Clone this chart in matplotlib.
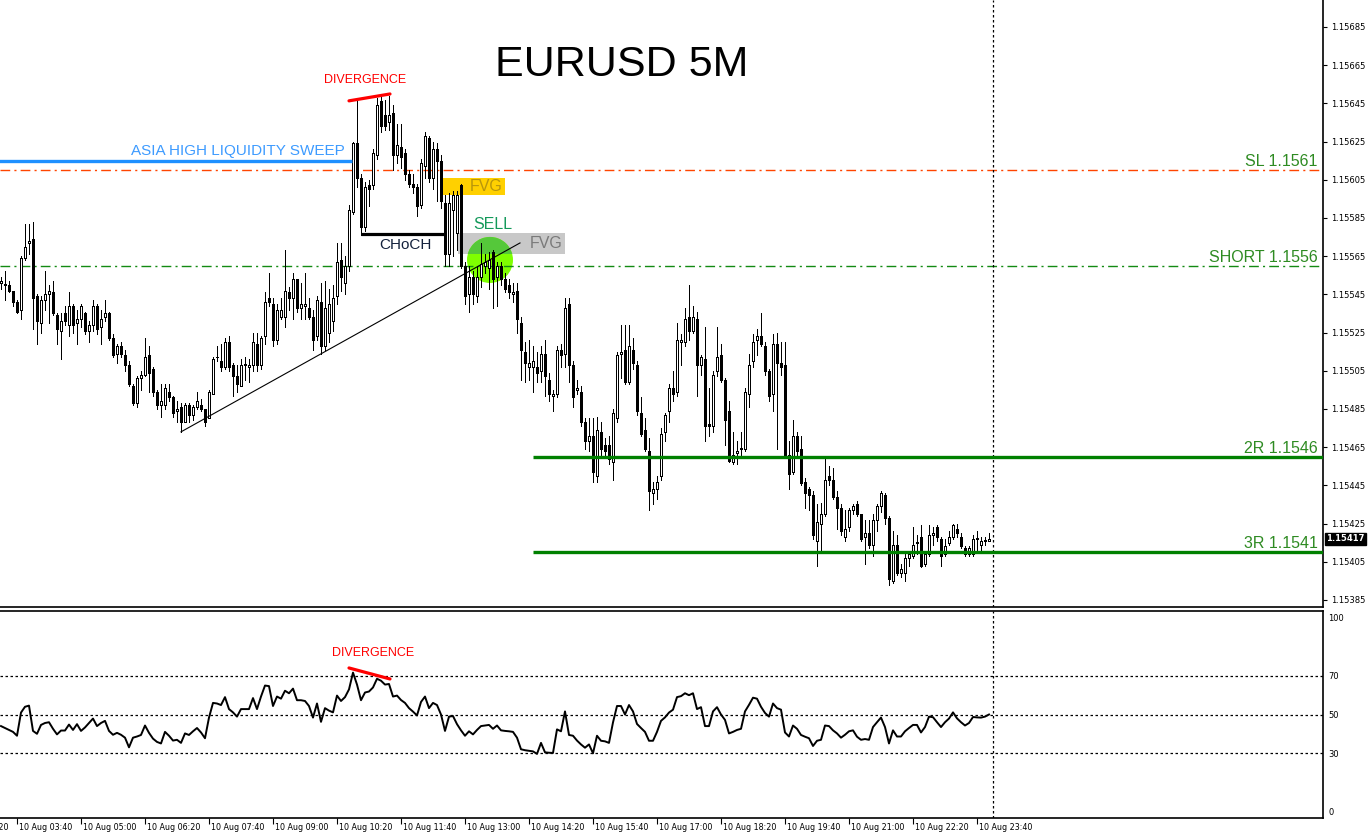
import numpy as np
import pandas as pd
import matplotlib
matplotlib.use("Agg")
import matplotlib.pyplot as plt
import matplotlib.transforms as mtransforms
from matplotlib.patches import Rectangle, Ellipse

# EURUSD 5M candles, 10 Aug 03:20 -> 23:55
opens = [
    1.15551, 1.15550, 1.15550, 1.15547, 1.15541, 1.15537, 1.15564, 1.15572, 1.15574, 1.15544,
    1.15530, 1.15542, 1.15545, 1.15546, 1.15534, 1.15526, 1.15535, 1.15529, 1.15539, 1.15530,
    1.15532, 1.15535, 1.15526, 1.15529, 1.15539, 1.15528, 1.15533, 1.15535, 1.15522, 1.15514,
    1.15518, 1.15513, 1.15508, 1.15497, 1.15488, 1.15501, 1.15503, 1.15513, 1.15506, 1.15494,
    1.15487, 1.15487, 1.15494, 1.15491, 1.15484, 1.15486, 1.15478, 1.15487, 1.15482, 1.15486,
    1.15487, 1.15485, 1.15480, 1.15493, 1.15512, 1.15510, 1.15507, 1.15520, 1.15508, 1.15502,
    1.15497, 1.15508, 1.15507, 1.15508, 1.15519, 1.15508, 1.15523, 1.15543, 1.15540, 1.15521,
    1.15533, 1.15533, 1.15546, 1.15543, 1.15553, 1.15538, 1.15539, 1.15538, 1.15533, 1.15523,
    1.15541, 1.15518, 1.15525, 1.15531, 1.15544, 1.15563, 1.15551, 1.15560, 1.15588, 1.15624,
    1.15606, 1.15580, 1.15602, 1.15602, 1.15618, 1.15646, 1.15639, 1.15635, 1.15640, 1.15618,
    1.15622, 1.15619, 1.15608, 1.15603, 1.15601, 1.15592, 1.15612, 1.15627, 1.15606, 1.15621,
    1.15615, 1.15593, 1.15566, 1.15589, 1.15577, 1.15602, 1.15560, 1.15545, 1.15554, 1.15544,
    1.15554, 1.15560, 1.15559, 1.15567, 1.15554, 1.15560, 1.15553, 1.15550, 1.15545, 1.15547,
    1.15530, 1.15515, 1.15507, 1.15507, 1.15507, 1.15505, 1.15514, 1.15500, 1.15492, 1.15493,
    1.15516, 1.15514, 1.15540, 1.15508, 1.15495, 1.15494, 1.15478, 1.15468, 1.15471, 1.15450,
    1.15473, 1.15466, 1.15466, 1.15457, 1.15480, 1.15514, 1.15516, 1.15499, 1.15516, 1.15508,
    1.15483, 1.15474, 1.15463, 1.15441, 1.15443, 1.15450, 1.15473, 1.15484, 1.15496, 1.15494,
    1.15520, 1.15520, 1.15533, 1.15526, 1.15532, 1.15508, 1.15511, 1.15477, 1.15476, 1.15505,
    1.15513, 1.15500, 1.15484, 1.15457, 1.15462, 1.15464, 1.15464, 1.15493, 1.15510, 1.15521,
    1.15523, 1.15518, 1.15505, 1.15493, 1.15519, 1.15509, 1.15508, 1.15461, 1.15452, 1.15471,
    1.15464, 1.15447, 1.15443, 1.15440, 1.15416, 1.15425, 1.15430, 1.15450, 1.15448, 1.15439,
    1.15433, 1.15418, 1.15423, 1.15432, 1.15435, 1.15430, 1.15418, 1.15420, 1.15414, 1.15427,
    1.15434, 1.15440, 1.15428, 1.15395, 1.15414, 1.15399, 1.15399, 1.15407, 1.15408, 1.15415,
    1.15418, 1.15404, 1.15409, 1.15419, 1.15423, 1.15417, 1.15409, 1.15415, 1.15418, 1.15422,
    1.15418, 1.15412, 1.15409, 1.15409, 1.15417, 1.15414, 1.15416, 1.15416,
]
highs = [
    1.15554, 1.15557, 1.15552, 1.15547, 1.15542, 1.15565, 1.15582, 1.15582, 1.15583, 1.15545,
    1.15544, 1.15557, 1.15550, 1.15552, 1.15535, 1.15535, 1.15539, 1.15546, 1.15540, 1.15537,
    1.15540, 1.15536, 1.15531, 1.15542, 1.15540, 1.15537, 1.15542, 1.15536, 1.15524, 1.15519,
    1.15520, 1.15516, 1.15510, 1.15498, 1.15502, 1.15505, 1.15522, 1.15518, 1.15507, 1.15495,
    1.15498, 1.15498, 1.15498, 1.15492, 1.15489, 1.15488, 1.15488, 1.15488, 1.15487, 1.15494,
    1.15490, 1.15485, 1.15495, 1.15512, 1.15518, 1.15519, 1.15522, 1.15523, 1.15509, 1.15508,
    1.15511, 1.15512, 1.15511, 1.15525, 1.15525, 1.15523, 1.15546, 1.15556, 1.15543, 1.15540,
    1.15543, 1.15568, 1.15549, 1.15556, 1.15553, 1.15551, 1.15556, 1.15543, 1.15537, 1.15544,
    1.15551, 1.15552, 1.15548, 1.15550, 1.15572, 1.15572, 1.15565, 1.15592, 1.15625, 1.15647,
    1.15608, 1.15604, 1.15605, 1.15621, 1.15648, 1.15650, 1.15647, 1.15649, 1.15644, 1.15634,
    1.15634, 1.15621, 1.15610, 1.15608, 1.15603, 1.15616, 1.15630, 1.15628, 1.15625, 1.15624,
    1.15618, 1.15597, 1.15598, 1.15599, 1.15599, 1.15603, 1.15562, 1.15560, 1.15557, 1.15560,
    1.15572, 1.15566, 1.15567, 1.15568, 1.15562, 1.15562, 1.15556, 1.15553, 1.15551, 1.15551,
    1.15533, 1.15520, 1.15521, 1.15518, 1.15515, 1.15518, 1.15521, 1.15504, 1.15495, 1.15518,
    1.15519, 1.15543, 1.15543, 1.15510, 1.15500, 1.15497, 1.15480, 1.15480, 1.15480, 1.15481,
    1.15478, 1.15470, 1.15471, 1.15485, 1.15515, 1.15529, 1.15529, 1.15529, 1.15522, 1.15510,
    1.15491, 1.15480, 1.15470, 1.15447, 1.15450, 1.15475, 1.15483, 1.15498, 1.15505, 1.15530,
    1.15524, 1.15538, 1.15550, 1.15539, 1.15536, 1.15513, 1.15528, 1.15496, 1.15505, 1.15528,
    1.15519, 1.15501, 1.15489, 1.15473, 1.15468, 1.15473, 1.15496, 1.15514, 1.15524, 1.15527,
    1.15535, 1.15520, 1.15506, 1.15524, 1.15525, 1.15520, 1.15520, 1.15468, 1.15479, 1.15473,
    1.15471, 1.15449, 1.15444, 1.15442, 1.15435, 1.15436, 1.15460, 1.15455, 1.15454, 1.15442,
    1.15435, 1.15432, 1.15433, 1.15435, 1.15437, 1.15430, 1.15427, 1.15427, 1.15430, 1.15435,
    1.15442, 1.15441, 1.15429, 1.15421, 1.15419, 1.15404, 1.15409, 1.15410, 1.15423, 1.15419,
    1.15424, 1.15410, 1.15424, 1.15423, 1.15424, 1.15418, 1.15417, 1.15421, 1.15425, 1.15425,
    1.15420, 1.15413, 1.15413, 1.15419, 1.15421, 1.15418, 1.15418, 1.15420,
]
lows = [
    1.15548, 1.15542, 1.15546, 1.15539, 1.15535, 1.15532, 1.15563, 1.15566, 1.15527, 1.15519,
    1.15525, 1.15537, 1.15530, 1.15534, 1.15519, 1.15511, 1.15529, 1.15523, 1.15525, 1.15519,
    1.15528, 1.15524, 1.15520, 1.15526, 1.15524, 1.15519, 1.15531, 1.15521, 1.15512, 1.15509,
    1.15512, 1.15505, 1.15497, 1.15487, 1.15486, 1.15495, 1.15502, 1.15494, 1.15492, 1.15485,
    1.15481, 1.15485, 1.15489, 1.15481, 1.15478, 1.15473, 1.15478, 1.15478, 1.15479, 1.15485,
    1.15484, 1.15476, 1.15480, 1.15493, 1.15510, 1.15505, 1.15506, 1.15505, 1.15492, 1.15494,
    1.15497, 1.15500, 1.15499, 1.15505, 1.15505, 1.15506, 1.15519, 1.15539, 1.15518, 1.15519,
    1.15532, 1.15528, 1.15537, 1.15532, 1.15536, 1.15532, 1.15532, 1.15532, 1.15516, 1.15521,
    1.15514, 1.15516, 1.15520, 1.15526, 1.15540, 1.15547, 1.15545, 1.15557, 1.15587, 1.15601,
    1.15576, 1.15578, 1.15591, 1.15600, 1.15616, 1.15630, 1.15631, 1.15631, 1.15610, 1.15614,
    1.15611, 1.15605, 1.15601, 1.15598, 1.15586, 1.15590, 1.15606, 1.15604, 1.15600, 1.15594,
    1.15590, 1.15560, 1.15560, 1.15565, 1.15568, 1.15559, 1.15540, 1.15536, 1.15540, 1.15541,
    1.15549, 1.15556, 1.15548, 1.15538, 1.15539, 1.15550, 1.15546, 1.15543, 1.15541, 1.15525,
    1.15500, 1.15499, 1.15500, 1.15494, 1.15499, 1.15499, 1.15492, 1.15489, 1.15484, 1.15491,
    1.15507, 1.15507, 1.15499, 1.15486, 1.15493, 1.15476, 1.15464, 1.15463, 1.15447, 1.15447,
    1.15461, 1.15461, 1.15456, 1.15448, 1.15478, 1.15501, 1.15498, 1.15498, 1.15506, 1.15482,
    1.15471, 1.15463, 1.15432, 1.15435, 1.15438, 1.15448, 1.15468, 1.15478, 1.15489, 1.15492,
    1.15508, 1.15518, 1.15521, 1.15525, 1.15492, 1.15503, 1.15468, 1.15471, 1.15473, 1.15502,
    1.15499, 1.15466, 1.15457, 1.15456, 1.15456, 1.15460, 1.15463, 1.15486, 1.15507, 1.15513,
    1.15518, 1.15503, 1.15489, 1.15484, 1.15464, 1.15503, 1.15460, 1.15443, 1.15451, 1.15460,
    1.15445, 1.15433, 1.15432, 1.15417, 1.15403, 1.15410, 1.15429, 1.15445, 1.15438, 1.15422,
    1.15419, 1.15416, 1.15421, 1.15430, 1.15429, 1.15416, 1.15404, 1.15412, 1.15408, 1.15421,
    1.15431, 1.15425, 1.15393, 1.15394, 1.15398, 1.15397, 1.15395, 1.15403, 1.15407, 1.15409,
    1.15402, 1.15403, 1.15408, 1.15414, 1.15416, 1.15403, 1.15408, 1.15414, 1.15417, 1.15418,
    1.15412, 1.15408, 1.15408, 1.15408, 1.15411, 1.15411, 1.15414, 1.15416,
]
closes = [
    1.15552, 1.15550, 1.15547, 1.15541, 1.15536, 1.15564, 1.15570, 1.15573, 1.15543, 1.15531,
    1.15542, 1.15545, 1.15547, 1.15535, 1.15527, 1.15531, 1.15531, 1.15539, 1.15529, 1.15532,
    1.15539, 1.15526, 1.15529, 1.15539, 1.15527, 1.15532, 1.15535, 1.15522, 1.15513, 1.15518,
    1.15514, 1.15508, 1.15498, 1.15488, 1.15501, 1.15503, 1.15512, 1.15504, 1.15494, 1.15487,
    1.15489, 1.15496, 1.15491, 1.15483, 1.15485, 1.15478, 1.15487, 1.15482, 1.15486, 1.15489,
    1.15485, 1.15478, 1.15494, 1.15511, 1.15512, 1.15507, 1.15520, 1.15507, 1.15502, 1.15498,
    1.15508, 1.15508, 1.15508, 1.15520, 1.15508, 1.15522, 1.15541, 1.15541, 1.15521, 1.15537,
    1.15537, 1.15547, 1.15543, 1.15553, 1.15538, 1.15540, 1.15540, 1.15533, 1.15521, 1.15542,
    1.15518, 1.15538, 1.15540, 1.15543, 1.15562, 1.15554, 1.15560, 1.15589, 1.15624, 1.15606,
    1.15580, 1.15601, 1.15600, 1.15619, 1.15644, 1.15633, 1.15633, 1.15639, 1.15618, 1.15623,
    1.15617, 1.15608, 1.15603, 1.15601, 1.15591, 1.15614, 1.15628, 1.15606, 1.15621, 1.15615,
    1.15594, 1.15566, 1.15593, 1.15597, 1.15597, 1.15560, 1.15544, 1.15554, 1.15545, 1.15554,
    1.15561, 1.15562, 1.15563, 1.15553, 1.15560, 1.15553, 1.15548, 1.15546, 1.15546, 1.15532,
    1.15516, 1.15509, 1.15509, 1.15510, 1.15504, 1.15514, 1.15502, 1.15493, 1.15493, 1.15516,
    1.15513, 1.15538, 1.15508, 1.15491, 1.15496, 1.15478, 1.15468, 1.15471, 1.15452, 1.15474,
    1.15464, 1.15463, 1.15459, 1.15483, 1.15513, 1.15515, 1.15499, 1.15518, 1.15509, 1.15484,
    1.15472, 1.15464, 1.15442, 1.15443, 1.15447, 1.15472, 1.15482, 1.15496, 1.15493, 1.15521,
    1.15521, 1.15532, 1.15526, 1.15533, 1.15508, 1.15512, 1.15476, 1.15476, 1.15503, 1.15512,
    1.15500, 1.15479, 1.15458, 1.15461, 1.15463, 1.15464, 1.15494, 1.15508, 1.15520, 1.15523,
    1.15519, 1.15505, 1.15492, 1.15519, 1.15509, 1.15507, 1.15461, 1.15451, 1.15471, 1.15463,
    1.15446, 1.15441, 1.15440, 1.15419, 1.15426, 1.15430, 1.15448, 1.15448, 1.15439, 1.15433,
    1.15421, 1.15422, 1.15432, 1.15434, 1.15430, 1.15417, 1.15420, 1.15414, 1.15427, 1.15434,
    1.15441, 1.15428, 1.15396, 1.15414, 1.15399, 1.15401, 1.15407, 1.15409, 1.15414, 1.15415,
    1.15403, 1.15409, 1.15419, 1.15420, 1.15418, 1.15408, 1.15413, 1.15418, 1.15424, 1.15420,
    1.15413, 1.15409, 1.15412, 1.15417, 1.15417, 1.15416, 1.15416, 1.15417,
]
rsi = [
    44, 43, 42, 41, 39, 51, 54, 54.6, 41.5, 40,
    44.6, 45.6, 46, 42.6, 39.7, 41.7, 41.7, 44.8, 42, 45,
    41.5, 43.3, 45.6, 47.9, 44, 45.6, 46.7, 41.5, 39.5, 40.5,
    39.5, 38, 33, 38, 38.6, 39.4, 44.3, 40.5, 37.5, 35.8,
    35, 41, 39, 36.5, 36.9, 35.3, 40.2, 39.4, 41.3, 43,
    40.7, 37.7, 48.4, 56, 55.7, 54.9, 59, 52.8, 51.1, 48.9,
    52.8, 52.8, 52.8, 58.5, 52.8, 59.3, 65, 64.7, 54.4, 59.3,
    58.2, 62.3, 61, 63.4, 57.4, 57.4, 57, 54.4, 48.4, 55.7,
    46.2, 53.3, 52, 51.1, 59.8, 57, 59, 63, 71.7, 65.5,
    57.4, 61.4, 61.9, 64, 68.5, 67.5, 65.5, 65.8, 59.3, 59.8,
    57.5, 56, 53.3, 51.5, 49.5, 56.5, 59.3, 53.3, 56, 54.9,
    50, 41.5, 48.9, 49.2, 45, 41.8, 39, 41.3, 39.7, 42,
    44, 44.3, 44.6, 42.6, 44.3, 41.8, 41.5, 41.3, 41, 38,
    32, 31.5, 31.2, 30.9, 29.6, 35.3, 30.4, 30.2, 30.1, 42.3,
    41.3, 51.6, 39.4, 39, 36.5, 34.5, 32.8, 34.5, 29.9, 39,
    36.4, 36.1, 35.3, 45.9, 54.4, 54.4, 50, 54.9, 51.6, 45.1,
    43, 41, 36.4, 36.4, 41, 46.7, 48.5, 51, 52.5, 59,
    59.5, 61, 60, 61, 52.8, 53.8, 44, 44, 51.6, 53.8,
    50, 47.2, 40.2, 41, 42, 42.6, 51.6, 55, 58.7, 58.2,
    54, 50.8, 48.9, 55.7, 53.3, 52.5, 40.7, 38.6, 44.3, 42.6,
    39.4, 38.5, 37.7, 33.7, 36.4, 36.9, 44.3, 44, 41.8, 40.2,
    38, 39.5, 41.3, 41.8, 38.5, 36.9, 37.3, 36.9, 43.5, 46,
    48.4, 43.5, 35, 41.8, 38.6, 38.6, 41.3, 43, 44.6, 44.6,
    40.7, 43.5, 48.9, 48.6, 46, 43.5, 46, 47.9, 51.1, 48,
    46, 44.3, 45.6, 48.7, 48.5, 48.4, 48.9, 50,
]

first_bar = pd.Timestamp("2025-08-10 03:20")
level_prices = [1.1561, 1.1556, 1.1546, 1.1541]
level_labels = ["SL 1.1561", "SHORT 1.1556", "2R 1.1546", "3R 1.1541"]
asia_high = 1.15615
rsi_levels = [30, 50, 70]

W, H = 1368, 838
fig = plt.figure(figsize=(W / 100, H / 100), dpi=100)
fig.set_facecolor("white")
ax = fig.add_axes([0, 1 - 607 / H, 1323 / W, 607 / H])
ax_rsi = fig.add_axes([0, 1 - 818 / H, 1323 / W, (818 - 611) / H])

o = np.array(opens)
c = np.array(closes)
h = np.maximum(np.array(highs), np.maximum(o, c))
l = np.minimum(np.array(lows), np.minimum(o, c))
n = len(c)
x = np.arange(n)

# candles: 1px wicks, white (up) and black (down) bodies
ax.vlines(x, l, h, color="black", lw=0.72, zorder=3, antialiased=False)
up = c >= o
bottom = np.minimum(o, c)
height = np.maximum(np.abs(c - o), 0.000004)
ax.bar(x[up], height[up], bottom=bottom[up], width=0.72, facecolor="white",
       edgecolor="black", lw=0.72, zorder=4, antialiased=False)
ax.bar(x[~up], height[~up], bottom=bottom[~up], width=0.72, facecolor="black",
       edgecolor="black", lw=0.72, zorder=4, antialiased=False)

xmax = 330.5
ax.set_xlim(-0.25, xmax)
ax.set_ylim(1.153813, 1.156991)

# levels
sl_style = (0, (7, 3, 1.5, 3))
ax.axhline(level_prices[0], color="#FF4500", lw=1, ls=sl_style, zorder=2)
ax.axhline(level_prices[1], color="#138A13", lw=1, ls=sl_style, zorder=2)
for p in level_prices[2:]:
    ax.hlines(p, 133, xmax, color="#008000", lw=2.4, zorder=5)
for p, lab in zip(level_prices, level_labels):
    ax.text(329.2, p + 0.000006, lab, ha="right", va="bottom", color="#2E8B22",
            fontsize=11.5, family="Liberation Sans", zorder=6)

# asia high sweep
ax.hlines(asia_high, -1, 87.8, color="#1E90FF", lw=2.4, zorder=5)
ax.text(86, asia_high + 0.000012, "ASIA HIGH LIQUIDITY SWEEP", ha="right", va="bottom",
        color="#3D9BFF", fontsize=11, family="Liberation Sans")

# divergence on price
ax.plot([87, 97.25], [1.156463, 1.156499], color="red", lw=2.3, zorder=6,
        solid_capstyle="round")
ax.text(91, 1.15657, "DIVERGENCE", ha="center", va="center", color="red",
        fontsize=9, family="Liberation Sans")

# trendline
ax.plot([45, 129.75], [l[45], 1.155719], color="black", lw=0.8, zorder=5)

# CHoCH
ax.hlines(1.155766, 90, 111, color="black", lw=2.3, zorder=5)
ax.text(101, 1.15571, "CHoCH", ha="center", va="center", color="#13213C",
        fontsize=11, family="Liberation Sans", zorder=6)

# FVG boxes
ax.add_patch(Rectangle((109.75, 1.15597), 16.25, 0.000089, facecolor="#FFD000",
                       edgecolor="none", zorder=1))
ax.text(121.3, 1.156013, "FVG", ha="center", va="center", color="#B8960C",
        fontsize=11.5, family="Liberation Sans", zorder=2)
gray_box = Rectangle((114.25, 1.155662), 26.75, 0.000109, facecolor="#C8C8C8",
                     edgecolor="none", zorder=1)
ax.add_patch(gray_box)
ax.text(136.3, 1.155715, "FVG", ha="center", va="center", color="#7A7A7A",
        fontsize=11.5, family="Liberation Sans", zorder=2)

# sell circle
ax.add_patch(Ellipse((122.25, 1.15563), 11.5, 0.000241, facecolor="#7FFF00",
                     edgecolor="none", zorder=1.5))
dark = Ellipse((122.25, 1.15563), 11.5, 0.000241, facecolor="#55C83A",
               edgecolor="none", zorder=1.6)
ax.add_patch(dark)
dark.set_clip_path(gray_box)
ax.text(123, 1.155815, "SELL", ha="center", va="center", color="#13995A",
        fontsize=11.5, family="Liberation Sans", zorder=6)

# period separator
for a in (ax, ax_rsi):
    a.axvline(n, color="black", lw=0.9, ls=(0, (2, 2)), zorder=2)

# price axis
ax.yaxis.tick_right()
ax.set_yticks(np.arange(1.15385, 1.156851, 0.0002))
ax.yaxis.set_major_formatter(matplotlib.ticker.FormatStrFormatter("%.5f"))
ax.tick_params(axis="y", direction="out", length=3, width=0.8, labelsize=6, pad=3)
ax.set_xticks([])
for s in ("top", "left"):
    ax.spines[s].set_visible(False)
for s in ("right", "bottom"):
    ax.spines[s].set_linewidth(1.2)

# current price tag
trans = mtransforms.blended_transform_factory(ax.transAxes, ax.transData)
ax.text(1.0025, c[-1], "%.5f" % c[-1], transform=trans, ha="left", va="center",
        color="white", fontsize=6, fontweight="bold",
        bbox=dict(boxstyle="square,pad=0.2", facecolor="black", edgecolor="black"))

# RSI panel
ax_rsi.plot(x, rsi, color="black", lw=1.4, zorder=3)
for lv in rsi_levels:
    ax_rsi.axhline(lv, color="black", lw=0.9, ls=(0, (2, 2)), zorder=1)
ax_rsi.plot([87, 97.25], [74.1, 68.4], color="red", lw=2.3, zorder=4,
            solid_capstyle="round")
ax_rsi.text(93, 81.9, "DIVERGENCE", ha="center", va="center", color="red",
            fontsize=9, family="Liberation Sans")
ax_rsi.set_xlim(-0.25, xmax)
ax_rsi.set_ylim(-3.6, 103.6)
ax_rsi.yaxis.tick_right()
ax_rsi.set_yticks([0, 30, 50, 70, 100])
ax_rsi.tick_params(axis="y", direction="out", length=0, labelsize=6, pad=4)
ax_rsi.spines["left"].set_visible(False)
for s in ("top", "right", "bottom"):
    ax_rsi.spines[s].set_linewidth(1.2)

# time axis: a label every 16 bars
tick_idx = np.arange(-12, n, 16)
ax_rsi.set_xticks([t for t in tick_idx if t >= 0])
ax_rsi.set_xticklabels([])
ax_rsi.tick_params(axis="x", direction="out", length=4, width=0.8)
ttrans = mtransforms.blended_transform_factory(ax_rsi.transData, ax_rsi.transAxes)
for t in tick_idx:
    ts = first_bar + pd.Timedelta(minutes=5 * int(t))
    ax_rsi.text(t + 0.4, -0.025, "%d %s" % (ts.day, ts.strftime("%b %H:%M")),
                transform=ttrans, ha="left", va="top", fontsize=5.8, clip_on=False)

fig.text(622 / W, 1 - 65 / H, "EURUSD 5M", ha="center", va="center", fontsize=31,
         family="Liberation Sans")

fig.savefig("out.png", dpi=100, facecolor="white")
